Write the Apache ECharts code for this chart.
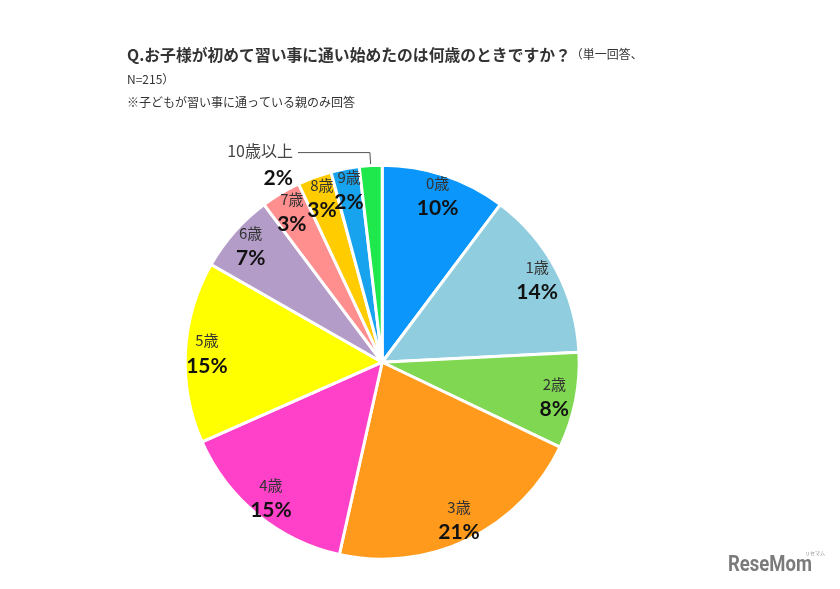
<!DOCTYPE html>
<html><head><meta charset="utf-8">
<script src="https://cdn.jsdelivr.net/npm/echarts@6/dist/echarts.min.js"></script>
<style>html,body{margin:0;padding:0;background:#fff}#c{width:840px;height:589px}</style>
</head><body><div id="c"></div>
<script>
const categories = ['0歳','1歳','2歳','3歳','4歳','5歳','6歳','7歳','8歳','9歳','10歳以上'];
const counts = [22, 30, 17, 46, 32, 32, 14, 7, 6, 5, 4]; // N=215
const colors = ['#0A96FA','#90CDDF','#80D852','#FF9A1C','#FF40C8','#FFFF00','#B49CC8','#FF8E8E','#FFCC00','#18A3EE','#1EE84C'];
const titleMain = 'Q.お子様が初めて習い事に通い始めたのは何歳のときですか？';
const titleNote = '（単一回答、';
const titleLine2 = 'N=215）';
const subNote = '※子どもが習い事に通っている親のみ回答';

const jp = '"Noto Sans CJK JP", sans-serif';
const pctFont = 'Lato, "Noto Sans", sans-serif';
const center = ['45.5%', '61.5%'];
const R = 197;
const last = categories.length - 1;

const mainData = categories.map((c, i) => ({
  name: c, value: counts[i],
  itemStyle: { color: colors[i] },
  label: { show: i === last },
  labelLine: { show: i === last }
}));
const overlayData = categories.map((c, i) => ({
  name: c, value: counts[i],
  label: { show: i !== last }
}));

const richLabel = {
  n: { fontSize: 15, color: '#333', fontFamily: jp, lineHeight: 25 },
  p: { fontSize: 21, color: '#111', fontWeight: 'bold', fontFamily: pctFont, lineHeight: 25 }
};
const richOut = {
  n: { fontSize: 16, color: '#444', fontFamily: jp, lineHeight: 27 },
  p: { fontSize: 21, color: '#111', fontWeight: 'bold', fontFamily: pctFont, lineHeight: 27 }
};
const fmt = p => '{n|' + p.name + '}\n{p|' + Math.round(p.percent) + '%}';

const chart = echarts.init(document.getElementById('c'), null, { renderer: 'canvas' });
chart.setOption({
  backgroundColor: '#fff',
  animation: false,
  title: {
    left: 122, top: 37,
    text: '{b|' + titleMain + '}{s|' + titleNote + '}\n{s|' + titleLine2 + '}',
    textStyle: {
      fontWeight: 'normal',
      rich: {
        b: { fontSize: 15.8, fontWeight: 'bold', color: '#333', fontFamily: jp, lineHeight: 25 },
        s: { fontSize: 12, fontWeight: 'normal', color: '#333', fontFamily: jp, lineHeight: 25 }
      }
    },
    subtext: subNote,
    subtextStyle: { fontSize: 12, color: '#333', fontFamily: jp },
    itemGap: 16
  },
  graphic: [
    { type: 'text', left: 728, top: 554, scaleX: 0.84, style: { text: 'ReseMom', fontSize: 22, fontWeight: 'bold', fill: '#7b7b7b', fontFamily: 'Roboto, "DejaVu Sans", sans-serif' } },
    { type: 'text', left: 805, top: 551, style: { text: 'リセマム', fontSize: 5, fill: '#888', fontFamily: jp } }
  ],
  series: [
    {
      type: 'pie',
      center: center,
      radius: [0, R],
      startAngle: 90,
      clockwise: true,
      data: mainData,
      itemStyle: { borderColor: '#fff', borderWidth: 3 },
      label: {
        position: 'outside',
        formatter: fmt,
        rich: richOut,
        padding: [24, 0, 0, 0]
      },
      labelLine: { length: 13, length2: 72, lineStyle: { color: '#555', width: 1 } },
      emphasis: { disabled: true }
    },
    {
      type: 'pie',
      center: center,
      radius: [144, R + 4],
      startAngle: 90,
      clockwise: true,
      silent: true,
      avoidLabelOverlap: false,
      labelLayout: { hideOverlap: false },
      data: overlayData,
      itemStyle: { color: 'rgba(0,0,0,0)', borderWidth: 0 },
      label: { position: 'inside', formatter: fmt, rich: richLabel },
      labelLine: { show: false },
      emphasis: { disabled: true }
    }
  ]
});
</script></body></html>
